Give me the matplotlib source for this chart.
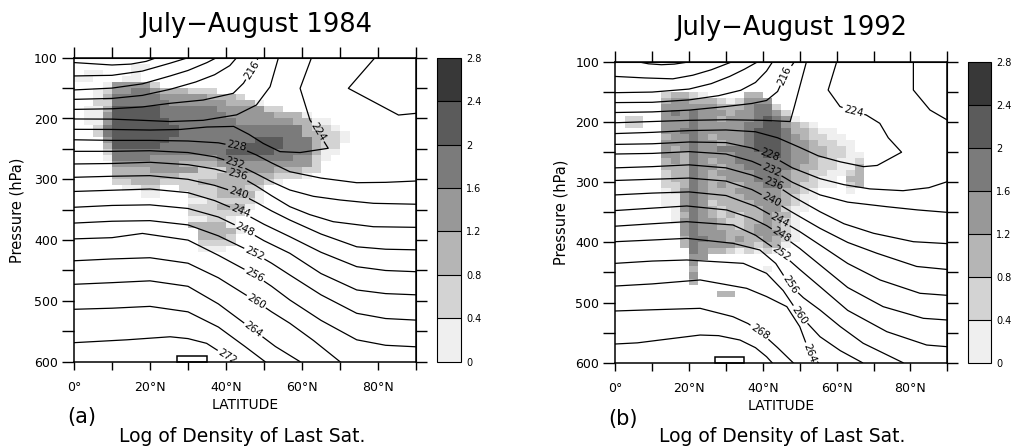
import numpy as np
import matplotlib
matplotlib.use("Agg")
import matplotlib.pyplot as plt
from matplotlib.colors import ListedColormap, BoundaryNorm
from matplotlib.patches import Rectangle

# colour classes of the shaded field (log of density)
LEVELS = [0, 0.4, 0.8, 1.2, 1.6, 2.0, 2.4, 2.8]
LEVEL_LABELS = ["0", "0.4", "0.8", "1.2", "1.6", "2", "2.4", "2.8"]
GREYS = ["#efefef", "#d3d3d3", "#b5b5b5", "#989898", "#7b7b7b", "#5b5b5b", "#383838"]

LAT_STEP = 2.5      # width of one shaded cell (deg)
P_STEP = 10         # height of one shaded cell (hPa), rows start at 100 hPa

# shaded class per cell (0 = empty, k = class LEVELS[k-1]..LEVELS[k]), one string per 10 hPa row
DENS_1984 = [
    "0000 0000 0000 0000 0000 0000 0000 0000 0000",  # 100
    "0000 0011 0000 0000 0000 0000 0000 0000 0000",  # 110
    "0110 0010 0000 0000 0000 0000 0000 0000 0000",  # 120
    "1100 0110 0000 0000 0000 0000 0000 0000 0000",  # 130
    "0001 4444 2000 0000 0000 0000 0000 0000 0000",  # 140
    "0012 4455 4333 2220 0000 0000 0000 0000 0000",  # 150
    "0013 5555 5444 4433 3200 0000 0000 0000 0000",  # 160
    "0022 5555 5544 4444 3331 0000 0000 0000 0000",  # 170
    "0113 6666 6555 5554 4444 2200 0000 0000 0000",  # 180
    "0114 6666 6555 5555 4444 4333 1000 0000 0000",  # 190
    "0114 6666 6655 5555 5444 4443 3110 0000 0000",  # 200
    "0025 6666 6665 5555 5555 5555 3221 0000 0000",  # 210
    "0025 6666 6665 5555 5555 5555 3322 1000 0000",  # 220
    "0004 6666 6655 5555 5556 6655 5322 1000 0000",  # 230
    "0003 6666 6555 5555 5566 6655 5322 0000 0000",  # 240
    "0002 5555 5555 5555 6666 6555 5311 0000 0000",  # 250
    "0001 5555 4444 4445 5555 5554 4210 0000 0000",  # 260
    "0000 4444 4443 3334 4444 4444 4200 0000 0000",  # 270
    "0000 3333 4444 4222 4444 4333 2200 0000 0000",  # 280
    "0000 3333 3332 2223 3333 3222 1000 0000 0000",  # 290
    "0000 2233 3222 2333 3333 2100 0000 0000 0000",  # 300
    "0000 0112 2002 2223 3322 0000 0000 0000 0000",  # 310
    "0000 0001 1000 2223 3331 0000 0000 0000 0000",  # 320
    "0000 0000 0000 1122 2221 0000 0000 0000 0000",  # 330
    "0000 0000 0000 2223 3310 0000 0000 0000 0000",  # 340
    "0000 0000 0000 2222 2200 0000 0000 0000 0000",  # 350
    "0000 0000 0000 1122 1000 0000 0000 0000 0000",  # 360
    "0000 0000 0000 3333 1000 0000 0000 0000 0000",  # 370
    "0000 0000 0000 0333 3100 0000 0000 0000 0000",  # 380
    "0000 0000 0000 0333 2000 0000 0000 0000 0000",  # 390
    "0000 0000 0000 0222 2000 0000 0000 0000 0000",  # 400
    "0000 0000 0000 0111 0000 0000 0000 0000 0000",  # 410
]

DENS_1992 = [
    "0000 0000 0000 0000 0000 0000 0000 0000 0000",  # 100
    "0000 0000 0000 0000 0000 0000 0000 0000 0000",  # 110
    "0000 0000 0000 0000 0000 0000 0000 0000 0000",  # 120
    "0000 0000 0000 0000 0000 0000 0000 0000 0000",  # 130
    "0000 0000 0000 0000 0000 0000 0000 0000 0000",  # 140
    "0000 0233 2100 0033 0000 0000 0000 0000 0000",  # 150
    "0000 0344 3332 1244 4000 0000 0000 0000 0000",  # 160
    "0000 0444 4443 3345 5200 0000 0000 0000 0000",  # 170
    "0000 0454 5444 3445 5420 0000 0000 0000 0000",  # 180
    "0220 0444 5443 4445 6541 0000 0000 0000 0000",  # 190
    "0220 0444 5444 4455 6643 2100 0000 0000 0000",  # 200
    "0000 0445 5444 4456 6653 3211 0000 0000 0000",  # 210
    "0000 0344 5434 4456 6654 3221 1000 0000 0000",  # 220
    "0000 0444 5443 4456 6654 4322 1100 0000 0000",  # 230
    "0000 0434 5445 5556 6654 4332 2100 0000 0000",  # 240
    "0000 0443 5444 4555 6654 4332 2110 0000 0000",  # 250
    "0000 0343 5434 4555 5554 4322 1120 0000 0000",  # 260
    "0000 0333 5443 4455 5554 3322 1130 0000 0000",  # 270
    "0000 0233 5434 4445 5543 3221 1230 0000 0000",  # 280
    "0000 0233 5433 4445 5543 3211 0330 0000 0000",  # 290
    "0000 0223 5434 3344 5543 2211 0230 0000 0000",  # 300
    "0000 0124 5433 3444 4433 2100 0100 0000 0000",  # 310
    "0000 0114 5433 3344 4432 1100 0000 0000 0000",  # 320
    "0000 0114 5423 3334 4432 1000 0000 0000 0000",  # 330
    "0000 0014 5432 3333 4421 1000 0000 0000 0000",  # 340
    "0000 0013 5432 3233 4331 0000 0000 0000 0000",  # 350
    "0000 0014 5443 2233 4321 0000 0000 0000 0000",  # 360
    "0000 0004 5443 3234 4321 0000 0000 0000 0000",  # 370
    "0000 0004 5444 3334 4421 0000 0000 0000 0000",  # 380
    "0000 0003 5544 3433 4321 0000 0000 0000 0000",  # 390
    "0000 0003 5444 4332 3310 0000 0000 0000 0000",  # 400
    "0000 0000 5433 2121 2100 0000 0000 0000 0000",  # 410
    "0000 0000 4400 0000 0000 0000 0000 0000 0000",  # 420
    "0000 0000 4000 0000 0000 0000 0000 0000 0000",  # 430
    "0000 0000 3000 0000 1000 0000 0000 0000 0000",  # 440
    "0000 0000 4000 0000 0000 0000 0000 0000 0000",  # 450
    "0000 0000 3000 0000 0000 0000 0000 0000 0000",  # 460
    "0000 0000 0000 0000 0000 0000 0000 0000 0000",  # 470
    "0000 0000 0003 3000 0000 0000 0000 0000 0000",  # 480
]

# isotherms (K): value, latitudes, pressures (hPa), label position or None
ISO_1984 = [
    (200, [0, 5, 10, 15, 19, 21.7], [108, 110, 112, 110.5, 106, 100], None),
    (204, [0, 10, 18, 25.3, 30], [130, 129, 122, 109, 100], None),
    (208, [0, 10, 18, 25.3, 30, 35, 37.5], [153, 150, 143, 130, 121, 108, 100], None),
    (212, [0, 10, 18, 25.3, 32, 37, 41, 42.8], [168.5, 167, 162, 152, 140, 128, 113, 100], None),
    (216, [0, 10, 18, 25.3, 34, 41.9, 44.6, 46.8, 48.5], [185, 184, 181, 175, 169.6, 158.6, 142, 120, 100], (46.8, 120)),
    (220, [0, 10, 18, 25.3, 34, 42.8, 48, 51.6, 53.8], [200.8, 201, 203, 205, 203, 194, 177.8, 147.7, 100], None),
    (224, [0, 10, 20, 28, 35, 42, 46, 49.8, 54.2, 59.5, 66.9, 64.2, 62.1, 59.5, 62.5],
          [217.8, 218, 219, 218, 214, 213, 226, 241, 254.5, 256, 249, 222, 202.5, 150.4, 100], (64.2, 222)),
    (228, [79.2, 72.2, 85.4, 90], [100, 150.4, 194.3, 191.5], None),
    (228, [0, 10, 20, 30, 38, 42.8, 48, 52, 56.8, 65, 74.4, 82, 90],
          [235, 236, 236, 237, 240, 246, 260, 273, 287.5, 298, 305.6, 305, 302.8], (42.8, 246)),
    (232, [0, 10, 20, 30, 37, 42.4, 48, 52, 56.8, 63, 70, 78.8, 90],
          [254, 254, 253, 256, 263, 273.7, 291, 304, 317.6, 328, 334, 339.5, 341], (42.4, 273.7)),
    (236, [0, 10, 20, 30, 37, 43, 48, 52, 56.8, 62, 68.2, 78.8, 90],
          [274.8, 274, 272, 276, 283, 293, 311, 327, 345, 358, 369.7, 378, 379], (43, 293)),
    (240, [0, 10, 20, 30, 37, 43.4, 48, 52, 56.8, 65, 74.4, 82, 90],
          [296.7, 295, 294, 300, 310, 323, 338, 352, 367, 390, 411, 415, 416], (43.4, 323)),
    (244, [0, 10, 20, 30, 37, 43.8, 50, 56.8, 65, 74.4, 82, 90],
          [320, 318, 316, 322, 335, 353, 374, 394.4, 420, 443.7, 450, 452], (43.8, 353)),
    (248, [0, 10, 20, 30, 38, 45, 50, 56.8, 65, 74.4, 82, 90],
          [346, 343, 342, 348, 362, 383, 401, 421.7, 455, 482, 488, 490], (45, 383)),
    (252, [0, 10, 20, 30, 38, 47.5, 52, 56.8, 65, 74.4, 82, 90],
          [372, 369, 368, 375, 393, 421.7, 438, 457.4, 490, 520.4, 529, 531.6], (47.5, 421.7)),
    (256, [0, 10, 18, 30, 38, 47.5, 52, 56.8, 65, 74.4, 82, 90],
          [398, 396, 389, 400, 425, 457, 476, 498.5, 532, 564, 573, 575.5], (47.5, 457)),
    (260, [0, 10, 20, 30, 38, 48, 52, 56.8, 63, 70],
          [434, 431, 429, 438, 462, 501, 518, 536.8, 565, 600], (48, 501)),
    (264, [0, 10, 20, 30, 38, 47.2, 53, 59.5], [472.7, 470, 467, 476, 505, 547.7, 575, 600], (47.2, 547.7)),
    (268, [0, 10, 20, 30, 38, 45, 50.3], [513.8, 512, 509, 518, 543, 575, 600], None),
    (272, [0, 13.9, 25.3, 30, 34.9, 39.7, 42.5], [568.7, 564, 559, 562, 569.8, 589, 600], (40.3, 592)),
]

ISO_1992 = [
    (200, [6.5, 9, 12.5, 16, 19.8], [100, 103, 104.5, 103.5, 100], None),
    (204, [0, 8, 15.6, 21, 26, 31.5], [124, 126.5, 128, 122, 113, 100], None),
    (208, [0, 10, 20, 26, 31, 35, 38.5], [151, 150, 145, 136, 124, 112, 100], None),
    (212, [0, 10, 20, 28, 34, 38, 41, 42.6], [167.5, 167, 163, 156, 147, 134, 115, 100], None),
    (216, [0, 10, 20, 30, 37, 41, 44, 46, 48.5], [184, 183, 180, 174, 169, 164, 149, 122, 100], (46, 122)),
    (220, [0, 10, 20, 30, 40, 47.4, 48.5, 49.6, 51.8], [201, 199, 197, 196, 197, 199, 175, 150, 100], None),
    (224, [0, 10, 20, 30, 38, 44, 50, 55, 61, 67.3, 71, 77.6, 74, 71.7, 68, 64.5, 60.9, 57.7, 60],
          [219, 217, 214, 213, 216, 226, 242, 256, 266, 274, 272, 250, 226, 202, 188, 182.6, 174, 146.6, 100],
          (64.5, 182.6)),
    (228, [80.8, 80.8, 85.3, 90], [100, 146.6, 179.8, 196.5], None),
    (228, [0, 10, 20, 30, 37, 41.9, 48, 55.5, 62, 69, 78, 85, 90],
          [237, 236, 233, 234, 243, 254.7, 276, 294, 304, 311, 314, 309, 299], (41.9, 254.7)),
    (232, [0, 10, 20, 30, 37, 42.4, 48, 55.5, 63, 73.6, 82, 90],
          [253, 252, 249, 253, 265, 279.6, 300, 321, 333, 340.6, 346, 350], (42.4, 279.6)),
    (236, [0, 10, 20, 30, 37, 42.8, 48, 55.5, 62, 70, 80.8, 90],
          [276, 274, 271, 276, 288, 301.8, 323, 349, 369, 384.8, 398.8, 402], (42.8, 301.8)),
    (240, [0, 10, 20, 30, 37, 42.4, 48, 55.5, 63, 70.9, 81.7, 90],
          [297, 295, 293, 298, 312, 329.5, 350, 376.6, 400, 418, 440, 445], (42.4, 329.5)),
    (244, [0, 10, 20, 30, 38, 44.6, 50, 55.5, 63, 71.8, 82.6, 90],
          [321, 318, 316, 322, 340, 362.7, 382, 404.3, 435, 462.5, 484.6, 488], (44.6, 362.7)),
    (248, [0, 10, 19.4, 30.2, 37, 41, 45, 50, 55.5, 63, 72.6, 83.5, 90],
          [347, 343, 339.4, 346, 360, 372, 387.7, 410, 437.5, 475, 506.8, 526.2, 529], (45, 387.7)),
    (252, [0, 10, 19.4, 31.9, 38, 45, 50, 55.5, 63, 73.6, 84.4, 90],
          [373, 369, 365.5, 371, 388, 418, 445, 473.6, 513, 548.4, 570.6, 573.4], (45, 418)),
    (256, [0, 10, 19.4, 31.9, 39.2, 43.5, 47.3, 51, 55.5, 61, 67.2, 78],
          [398.8, 396, 393.2, 401.5, 412.6, 435, 470.8, 492, 512.4, 540, 567.7, 600], (47.3, 470.8)),
    (260, [0, 10, 19.4, 34.7, 41, 45.5, 50, 55.5, 61, 67],
          [434.8, 431, 429.2, 434.8, 451.4, 480, 520.7, 556.8, 580, 600], (50, 520.7)),
    (264, [0, 10, 23, 35.6, 41, 46.5, 50, 52.7, 55], [472.5, 469, 462.4, 476.3, 490, 506.8, 540, 584, 600], (52.7, 584)),
    (268, [0, 10, 23, 31.9, 36, 39.2, 44, 48.2], [514, 512, 509.6, 523.5, 535, 548.4, 575, 600], (39.2, 548.4)),
    (272, [0, 6, 12.1, 23, 28, 33.8, 38, 41, 42.5], [568.9, 567, 562.3, 554, 555, 562.3, 575, 590, 600], None),
]

BOX_LAT = [27, 35]
BOX_P = [590, 600]

LAT_TICKS = list(range(0, 91, 10))
LAT_LABELS = ["0°", "", "20°N", "", "40°N", "", "60°N", "", "80°N", ""]
P_TICKS = list(range(100, 601, 50))
P_LABELS = ["100", "", "200", "", "300", "", "400", "", "500", "", "600"]

W, H = 1013, 446


def fig_rect(x0, y0, x1, y1):
    """pixel box (top-left origin) -> figure fraction rect"""
    return [x0 / W, 1 - y1 / H, (x1 - x0) / W, (y1 - y0) / H]


def draw_isotherm(ax, value, lats, ps, label):
    to_disp = ax.transData
    to_data = ax.transData.inverted()
    pts = to_disp.transform(np.column_stack([lats, ps]))
    if label is None:
        ax.plot(lats, ps, color="k", lw=0.9, zorder=3)
        return
    lp = to_disp.transform([label])[0]
    seg = np.diff(pts, axis=0)
    seg_len = np.hypot(seg[:, 0], seg[:, 1])
    cum = np.concatenate([[0], np.cumsum(seg_len)])
    best = None
    for i in range(len(seg)):
        t = np.clip(np.dot(lp - pts[i], seg[i]) / seg_len[i] ** 2, 0, 1)
        q = pts[i] + t * seg[i]
        d = np.hypot(*(lp - q))
        if best is None or d < best[0]:
            best = (d, i, t, q)
    _, i, t, q = best
    s0 = cum[i] + t * seg_len[i]
    half = 12

    def at(s):
        j = min(max(np.searchsorted(cum, s) - 1, 0), len(seg) - 1)
        f = (s - cum[j]) / seg_len[j]
        return pts[j] + f * seg[j]

    before = [p for p, c in zip(pts, cum) if c < s0 - half]
    after = [p for p, c in zip(pts, cum) if c > s0 + half]
    if before:
        before.append(at(s0 - half))
        b = to_data.transform(np.array(before))
        ax.plot(b[:, 0], b[:, 1], color="k", lw=0.9, zorder=3)
    if after:
        after.insert(0, at(s0 + half))
        a = to_data.transform(np.array(after))
        ax.plot(a[:, 0], a[:, 1], color="k", lw=0.9, zorder=3)
    ang = np.degrees(np.arctan2(seg[i][1], seg[i][0]))
    if ang > 90:
        ang -= 180
    if ang < -90:
        ang += 180
    qd = to_data.transform([q])[0]
    ax.text(qd[0], qd[1], str(value), rotation=ang, rotation_mode="anchor",
            ha="center", va="center", fontsize=7.5, zorder=4, clip_on=True)


def plot_panel(fig, ax_px, cb_px, dens, iso, title, title_xy, letter, letter_xy,
               latlab_xy, bottom_xy, pres_xy):
    ax = fig.add_axes(fig_rect(*ax_px))
    ax.set_xlim(0, 90)
    ax.set_ylim(600, 100)

    cls = np.array([[int(ch) for ch in r.replace(" ", "")] for r in dens], dtype=float)
    vals = np.where(cls > 0, cls * 0.4 - 0.2, np.nan)
    lat_edges = np.arange(cls.shape[1] + 1) * LAT_STEP
    p_edges = 100 + np.arange(cls.shape[0] + 1) * P_STEP
    cmap = ListedColormap(GREYS)
    norm = BoundaryNorm(LEVELS, cmap.N)
    mesh = ax.pcolormesh(lat_edges, p_edges, np.ma.masked_invalid(vals),
                         cmap=cmap, norm=norm, shading="flat", zorder=1)

    for value, lats, ps, label in iso:
        draw_isotherm(ax, value, lats, ps, label)

    ax.add_patch(Rectangle((BOX_LAT[0], BOX_P[0]), BOX_LAT[1] - BOX_LAT[0],
                           BOX_P[1] - BOX_P[0], fill=False, ec="k", lw=1.1,
                           zorder=5, clip_on=False))

    ax.set_xticks(LAT_TICKS)
    ax.set_xticklabels(LAT_LABELS)
    ax.set_yticks(P_TICKS)
    ax.set_yticklabels(P_LABELS)
    ax.tick_params(axis="x", direction="out", length=6, width=1, pad=8, labelsize=9)
    ax.tick_params(axis="y", direction="out", length=8.5, width=1, pad=3, labelsize=9)
    for s in ax.spines.values():
        s.set_linewidth(1.1)

    top = ax.secondary_xaxis("top")
    top.set_xticks(LAT_TICKS)
    top.set_xticklabels([])
    top.tick_params(direction="out", length=8, width=1)
    right = ax.secondary_yaxis("right")
    right.set_yticks(P_TICKS)
    right.set_yticklabels([])
    right.tick_params(direction="out", length=8, width=1)

    cax = fig.add_axes(fig_rect(*cb_px))
    cb = fig.colorbar(mesh, cax=cax, ticks=LEVELS, drawedges=True)
    cb.ax.set_yticklabels(LEVEL_LABELS)
    cb.ax.tick_params(length=0, labelsize=7, pad=4)
    cb.outline.set_linewidth(0.8)
    cb.dividers.set_linewidth(0.8)

    fig.text(title_xy[0] / W, 1 - title_xy[1] / H, title, ha="center", va="center",
             fontsize=18.5)
    fig.text(letter_xy[0] / W, 1 - letter_xy[1] / H, letter, ha="center", va="center",
             fontsize=15)
    fig.text(latlab_xy[0] / W, 1 - latlab_xy[1] / H, "LATITUDE", ha="center",
             va="center", fontsize=10)
    fig.text(bottom_xy[0] / W, 1 - bottom_xy[1] / H, "Log of Density of Last Sat.",
             ha="center", va="center", fontsize=13.5)
    fig.text(pres_xy[0] / W, 1 - pres_xy[1] / H, "Pressure (hPa)", ha="center",
             va="center", rotation=90, fontsize=10.5)


fig = plt.figure(figsize=(W / 100, H / 100), dpi=100)
plot_panel(fig, (74, 57.7, 416, 361.7), (437, 57.7, 460.5, 361.7), DENS_1984, ISO_1984,
           "July\u2212August 1984", (256, 25), "(a)", (81.7, 417.5),
           (245, 405), (242, 436.5), (17, 210))
plot_panel(fig, (615.3, 62, 947.3, 362.7), (967.7, 62, 990.7, 362.7), DENS_1992, ISO_1992,
           "July\u2212August 1992", (791.7, 28), "(b)", (623, 419),
           (780.8, 406), (781.7, 436.5), (560.8, 212.5))
fig.savefig("out.png", dpi=100)
